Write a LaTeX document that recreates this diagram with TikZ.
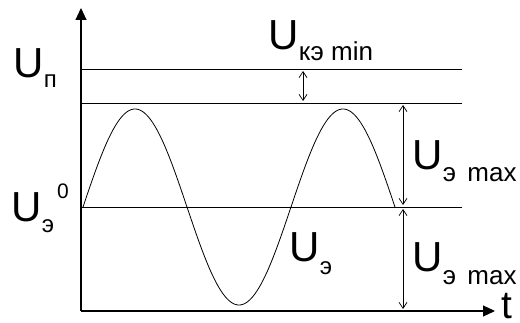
\documentclass[tikz,border=0pt]{standalone}
\usepackage{fontspec}
\setmainfont{Liberation Sans}
\usetikzlibrary{arrows.meta}
\begin{document}
\begin{tikzpicture}[x=1pt,y=-1pt,
  lbl/.style={inner sep=0pt,anchor=base west,font=\fontsize{42}{46}\selectfont},
  sub/.style={inner sep=0pt,anchor=base west,font=\fontsize{24}{28}\selectfont},
  subw/.style={sub,font=\fontsize{26}{30}\selectfont},
  sup/.style={inner sep=0pt,anchor=base west,font=\fontsize{21}{24}\selectfont},
  axis/.style={line width=1.1pt,-{Triangle[length=12pt,width=11pt]}},
  level/.style={line width=0.9pt},
  dim/.style={line width=0.7pt,{Straight Barb[length=6pt,width=8pt]}-{Straight Barb[length=6pt,width=8pt]}},
  wave/.style={line width=0.8pt}]
\useasboundingbox (0,0) rectangle (520,323);
% axes
\coordinate (O) at (81,311);
\coordinate (Ytop) at (81,8);
\coordinate (Xend) at (495,311);
\draw[axis] (O) -- (Ytop);
\draw[axis] (O) -- (Xend);
% level lines
\coordinate (L1a) at (81,69);  \coordinate (L1b) at (462,69);
\coordinate (L2a) at (81,103); \coordinate (L2b) at (462,103);
\coordinate (L3a) at (81,207); \coordinate (L3b) at (462,207);
\draw[level] (L1a) -- (L1b);
\draw[level] (L2a) -- (L2b);
\draw[level] (L3a) -- (L3b);
% sine wave
\draw[wave] plot[domain=0:312,samples=240,smooth] ({\x+83},{207-98*sin(\x*1.7307692)});
% dimension arrows
\coordinate (d1a) at (303,71); \coordinate (d1b) at (303,101);
\draw[dim] (d1a) -- (d1b);
\coordinate (d2a) at (403,105); \coordinate (d2b) at (403,205);
\draw[dim] (d2a) -- (d2b);
\coordinate (d3a) at (403,209); \coordinate (d3b) at (403,309);
\draw[dim] (d3a) -- (d3b);
% labels
\node[lbl] (Up) at (13,78) {U};
\node[sub] (Upsub) at (Up.base east) [yshift=-10pt] {п};
\node[lbl] (Uk) at (268,50) {U};
\node[subw] (Uksub) at (Uk.base east) [yshift=-11pt] {кэ min};
\node[lbl] (U0) at (11,222) {U};
\node[sub] (U0sub) at (U0.base east) [yshift=-11pt] {э};
\node[sup] (U0sup) at (57,199) {0};
\node[lbl] (Ue) at (289,262) {U};
\node[sub] (Uesub) at (Ue.base east) [yshift=-13pt] {э};
\node[lbl] (Um1) at (412,170) {U};
\node[subw] (Um1sub) at (Um1.base east) [yshift=-12pt] {э\hspace{4pt} max};
\node[lbl] (Um2) at (412,272) {U};
\node[subw] (Um2sub) at (Um2.base east) [yshift=-13pt] {э\hspace{4pt} max};
\node[lbl,font=\fontsize{39}{43}\selectfont] (t) at (501,319) {t};
\end{tikzpicture}
\end{document}
